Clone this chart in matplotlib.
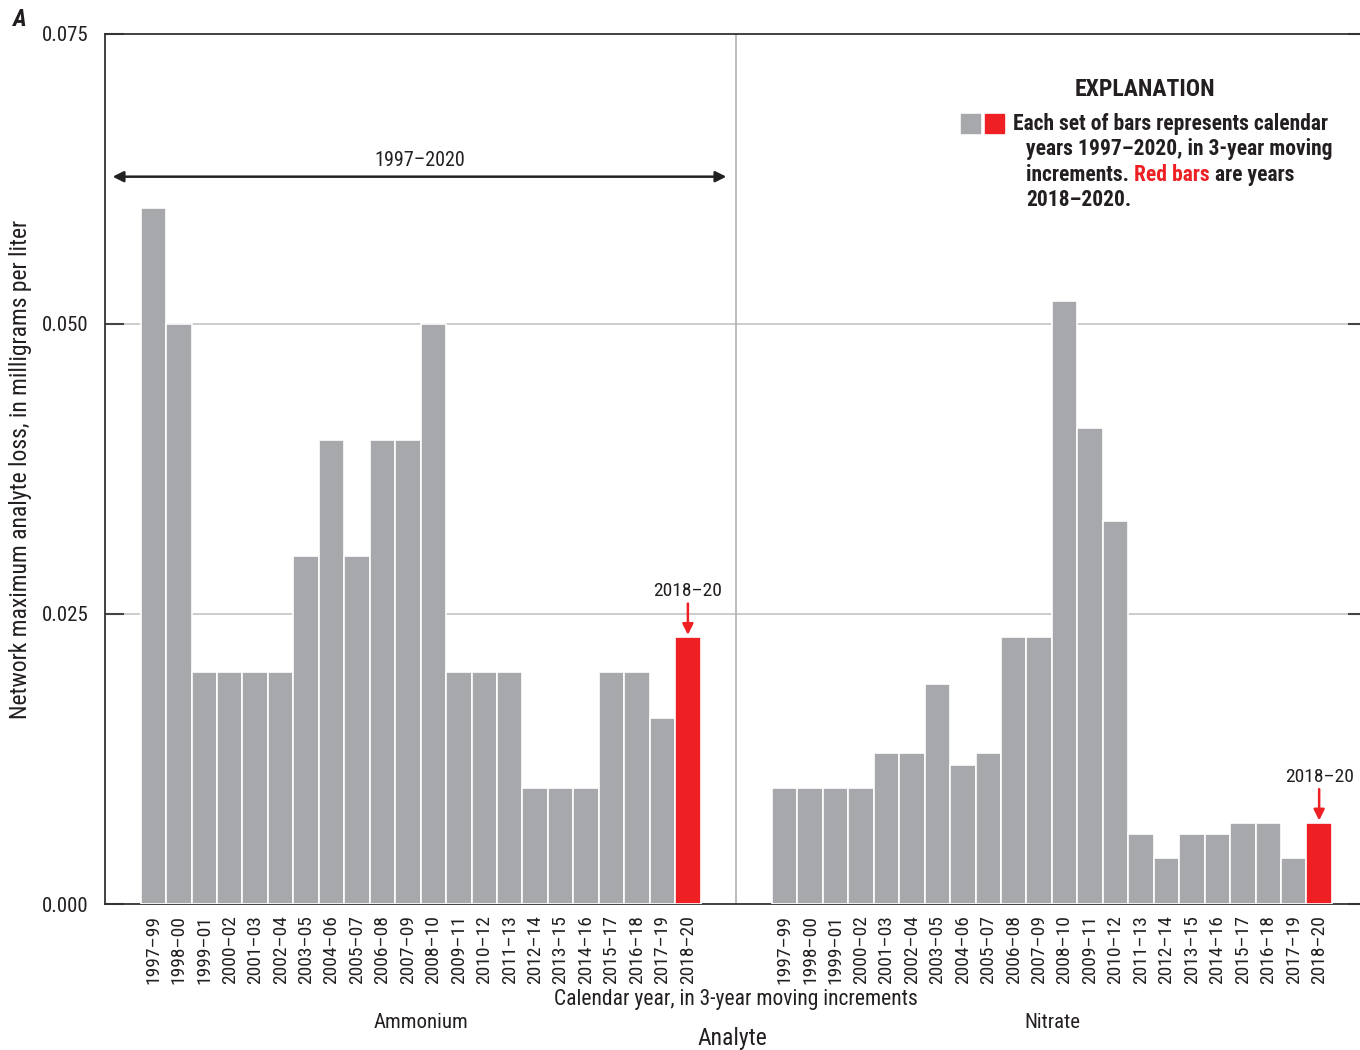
import matplotlib
matplotlib.use("Agg")
import matplotlib.pyplot as plt
import numpy as np
from matplotlib import font_manager


def pick_family(candidates, bold=False):
    # first condensed family that is installed (with a bold face if asked)
    for name in candidates:
        for f in font_manager.fontManager.ttflist:
            if f.name != name:
                continue
            w = f.weight if isinstance(f.weight, int) else (700 if 'bold' in str(f.weight) else 400)
            if not bold or w >= 600:
                return name
    return 'DejaVu Sans'


CANDIDATES = ['Roboto Condensed', 'Archivo Narrow', 'Liberation Sans Narrow',
              'Sofia Sans Condensed', 'Saira SemiCondensed']
FONT = pick_family(CANDIDATES)
FONT_BOLD = pick_family(CANDIDATES, bold=True)
plt.rcParams['font.family'] = [FONT, 'DejaVu Sans']

periods = ['1997–99', '1998–00', '1999–01', '2000–02', '2001–03', '2002–04',
           '2003–05', '2004–06', '2005–07', '2006–08', '2007–09', '2008–10',
           '2009–11', '2010–12', '2011–13', '2012–14', '2013–15', '2014–16',
           '2015–17', '2016–18', '2017–19', '2018–20']
ammonium = [0.060, 0.050, 0.020, 0.020, 0.020, 0.020, 0.030, 0.040, 0.030,
            0.040, 0.040, 0.050, 0.020, 0.020, 0.020, 0.010, 0.010, 0.010,
            0.020, 0.020, 0.016, 0.023]
nitrate = [0.010, 0.010, 0.010, 0.010, 0.013, 0.013, 0.019, 0.012, 0.013,
           0.023, 0.023, 0.052, 0.041, 0.033, 0.006, 0.004, 0.006, 0.006,
           0.007, 0.007, 0.004, 0.007]
analytes = ['Ammonium', 'Nitrate']
yticks = [0.0, 0.025, 0.050, 0.075]

GRAY = '#a7a8ac'
RED = '#ee2024'
INK = '#231f20'
n = len(periods)
group_gap = 2.8
x_amm = np.arange(n)
x_nit = np.arange(n) + n + group_gap

fig = plt.figure(figsize=(13.6, 10.5), dpi=100)
ax = fig.add_axes([105 / 1360, 1 - 904 / 1050, (1367 - 105) / 1360, (904 - 34) / 1050])

for xs, vals in [(x_amm, ammonium), (x_nit, nitrate)]:
    colors = [GRAY] * (n - 1) + [RED]
    ax.bar(xs, vals, width=1.0, color=colors, edgecolor='white', linewidth=1.2, zorder=3)

ax.set_xlim(-1.9, x_nit[-1] + 1.88)
ax.set_ylim(0, 0.075)

# grid, divider and frame
for y in [0.025, 0.050]:
    ax.axhline(y, color='#c4c4c4', lw=1.2, zorder=1)
mid = (x_amm[-1] + x_nit[0]) / 2
ax.axvline(mid, color='#b0b0b0', lw=1.2, zorder=1)
for s in ['left', 'top', 'bottom']:
    ax.spines[s].set_color('#333333')
    ax.spines[s].set_linewidth(1.3)
ax.spines['right'].set_visible(False)

ax.set_yticks(yticks)
ax.set_yticklabels(['%.3f' % v for v in yticks], fontsize=15, color=INK)
ax.tick_params(axis='y', direction='in', length=14, width=1.5, color='#444444',
               right=True, pad=12)
ax.set_xticks(np.concatenate([x_amm, x_nit]))
ax.set_xticklabels(periods + periods, rotation=90, fontsize=14, color=INK)
ax.tick_params(axis='x', length=0, pad=8)

ax.set_ylabel('Network maximum analyte loss, in milligrams per liter', fontsize=17, color=INK)
ax.yaxis.set_label_coords(-73 / 1262, 0.5)

fig.text(736 / 1360, 1 - 1000 / 1050, 'Calendar year, in 3-year moving increments',
         ha='center', va='center', fontsize=15.5, color=INK)
fig.text(421 / 1360, 1 - 1022 / 1050, analytes[0], ha='center', va='center', fontsize=15, color=INK)
fig.text(1052 / 1360, 1 - 1022 / 1050, analytes[1], ha='center', va='center', fontsize=15, color=INK)
fig.text(732 / 1360, 1 - 1039 / 1050, 'Analyte', ha='center', va='center', fontsize=17, color=INK)
fig.text(12 / 1360, 1 - 20 / 1050, 'A', fontsize=17, fontweight='bold', style='italic',
         va='center', ha='left', family=[FONT_BOLD, 'DejaVu Sans'], color=INK)

# span arrow over the ammonium group
ax.annotate('', xy=(-1.6, 0.0627), xytext=(mid - 0.39, 0.0627),
            arrowprops=dict(arrowstyle='<|-|>', color='#222222', lw=1.8,
                            mutation_scale=16, shrinkA=0, shrinkB=0))
ax.text((mid - 2.0) / 2, 0.0633, '1997–2020', ha='center', va='bottom', fontsize=14.5, color=INK)

# latest period markers
for xs, vals in [(x_amm, ammonium), (x_nit, nitrate)]:
    top = vals[-1]
    ax.annotate('', xy=(xs[-1], top + 0.0002), xytext=(xs[-1], top + 0.0029),
                arrowprops=dict(arrowstyle='-|>', color=RED, lw=1.8,
                                mutation_scale=16, shrinkA=0, shrinkB=0))
    ax.text(xs[-1], top + 0.0032, periods[-1], ha='center', va='bottom', fontsize=14, color=INK)

# explanation box
bold = dict(fontweight='bold', family=[FONT_BOLD, 'DejaVu Sans'])
fig.text(1145 / 1360, 1 - 90 / 1050, 'EXPLANATION', ha='center', va='center',
         fontsize=17, color=INK, **bold)
for x0, c in [(961, GRAY), (985, RED)]:
    fig.patches.append(plt.Rectangle((x0 / 1360, 1 - 133 / 1050), 19 / 1360, 19 / 1050,
                                     transform=fig.transFigure, color=c, figure=fig))
kw = dict(fontsize=15.5, color=INK, va='center', ha='left', **bold)
fig.text(1013 / 1360, 1 - 124 / 1050, 'Each set of bars represents calendar', **kw)
fig.text(1026 / 1360, 1 - 149 / 1050, 'years 1997–2020, in 3-year moving', **kw)
t1 = fig.text(1026 / 1360, 1 - 175 / 1050, 'increments. ', **kw)
t2 = ax.annotate('Red bars', xy=(1, 0), xycoords=t1, fontsize=15.5, color=RED,
                 va='bottom', ha='left', annotation_clip=False, **bold)
ax.annotate(' are years', xy=(1, 0), xycoords=t2, fontsize=15.5, color=INK,
            va='bottom', ha='left', annotation_clip=False, **bold)
fig.text(1026 / 1360, 1 - 200 / 1050, '2018–2020.', **kw)

fig.savefig('out.png', dpi=100)
